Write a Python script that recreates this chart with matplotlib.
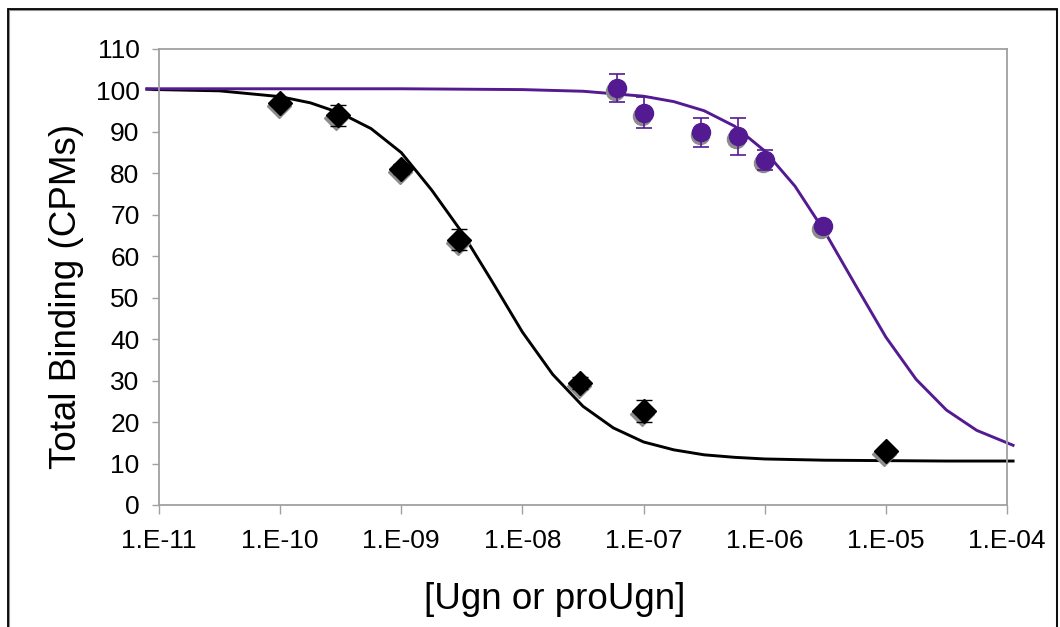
import numpy as np
import matplotlib
matplotlib.use('Agg')
import matplotlib.pyplot as plt
from matplotlib import transforms
from matplotlib.patches import Rectangle

plt.rcParams['font.family'] = ['Liberation Sans', 'DejaVu Sans']

# Ugn (black diamonds)
ugn_x = [1e-10, 3e-10, 1e-09, 3e-09, 3e-08, 1e-07, 1e-05]
ugn_y = [97.0, 94.0, 81.0, 64.0, 29.4, 22.7, 13.1]
ugn_err = [0.8, 2.6, 1.2, 2.6, 1.5, 2.7, 1.0]

# proUgn (purple circles)
pro_x = [6e-08, 1e-07, 3e-07, 6e-07, 1e-06, 3e-06]
pro_y = [100.6, 94.6, 89.9, 88.9, 83.2, 67.3]
pro_err = [3.4, 3.7, 3.5, 4.4, 2.5, 1.0]

# fitted curves (log10 of concentration)
ugn_fit_logx = [-11.1, -11.0, -10.5, -10.0, -9.75, -9.5, -9.25, -9.0, -8.75, -8.5,
                -8.25, -8.0, -7.75, -7.5, -7.25, -7.0, -6.75, -6.5, -6.25, -6.0,
                -5.5, -5.0, -4.5, -3.95]
ugn_fit_y = [100.3, 100.2, 99.9, 98.5, 97.0, 94.5, 90.8, 85.0, 76.0, 65.8,
             53.9, 41.7, 31.5, 23.8, 18.6, 15.2, 13.3, 12.1, 11.5, 11.1,
             10.8, 10.7, 10.6, 10.6]
pro_fit_logx = [-11.1, -10.0, -9.0, -8.0, -7.5, -7.0, -6.75, -6.5, -6.25, -6.0,
                -5.75, -5.5, -5.25, -5.0, -4.75, -4.5, -4.25, -3.95]
pro_fit_y = [100.4, 100.4, 100.4, 100.2, 99.8, 98.6, 97.3, 95.1, 91.4, 85.4,
             76.9, 65.7, 53.0, 40.5, 30.3, 22.9, 18.0, 14.4]

xtick_labels = ['1.E-11', '1.E-10', '1.E-09', '1.E-08', '1.E-07', '1.E-06', '1.E-05', '1.E-04']

purple = '#541a92'
grey = '#a0a0a0'

fig = plt.figure(figsize=(10.6, 6.27), dpi=100)
ax = fig.add_axes([0.15, 0.1946, 0.80, 0.7273])

# outer frame (open at the bottom)
fig.patches.append(Rectangle((9 / 1060, -0.05), 1048 / 1060, 1.034, transform=fig.transFigure,
                             fill=False, edgecolor='#909090', lw=1.5, zorder=0))
fig.patches.append(Rectangle((8 / 1060, -0.05), 1049 / 1060, 1.036, transform=fig.transFigure,
                             fill=False, edgecolor='black', lw=1.3, zorder=0))

# curves
ax.plot(10.0 ** np.array(ugn_fit_logx), ugn_fit_y, color='black', lw=2.1, clip_on=False, zorder=2)
ax.plot(10.0 ** np.array(pro_fit_logx), pro_fit_y, color=purple, lw=2.1, clip_on=False, zorder=2)

# marker shadows
shadow = transforms.offset_copy(ax.transData, fig=fig, x=-1.5, y=-3, units='dots')
ax.plot(ugn_x, ugn_y, 'D', ms=12.5, color='#8c8c8c', transform=shadow, zorder=3)
ax.plot(pro_x, pro_y, 'o', ms=13, color='#8c8c8c', transform=shadow, zorder=3)

# data with error bars
ax.errorbar(ugn_x, ugn_y, yerr=ugn_err, fmt='D', ms=12.5, color='black', ecolor='black',
            elinewidth=1, capsize=6, capthick=1, zorder=4)
ax.errorbar(pro_x, pro_y, yerr=pro_err, fmt='o', ms=13, color=purple, ecolor=purple,
            elinewidth=1.2, capsize=6, capthick=1.2, zorder=4)

ax.set_xscale('log')
ax.set_xlim(1e-11, 1e-04)
ax.set_ylim(0, 110)
ax.set_xticks(10.0 ** np.arange(-11, -3))
ax.set_xticklabels(xtick_labels)
ax.xaxis.set_minor_locator(matplotlib.ticker.NullLocator())
ax.set_yticks(np.arange(0, 111, 10))

for s in ax.spines.values():
    s.set_color(grey)
    s.set_linewidth(1.3)
ax.tick_params(axis='x', length=6.5, width=1, color=grey, labelsize=19, pad=11)
ax.tick_params(axis='y', length=5, width=1, color=grey, labelsize=19, pad=9)

ax.set_xlabel('[Ugn or proUgn]', fontsize=26.5)
ax.set_ylabel('Total Binding (CPMs)', fontsize=26.5)
ax.xaxis.set_label_coords(0.467, -0.169)
ax.yaxis.set_label_coords(-0.089, 0.458)

plt.savefig('out.png', dpi=100)
